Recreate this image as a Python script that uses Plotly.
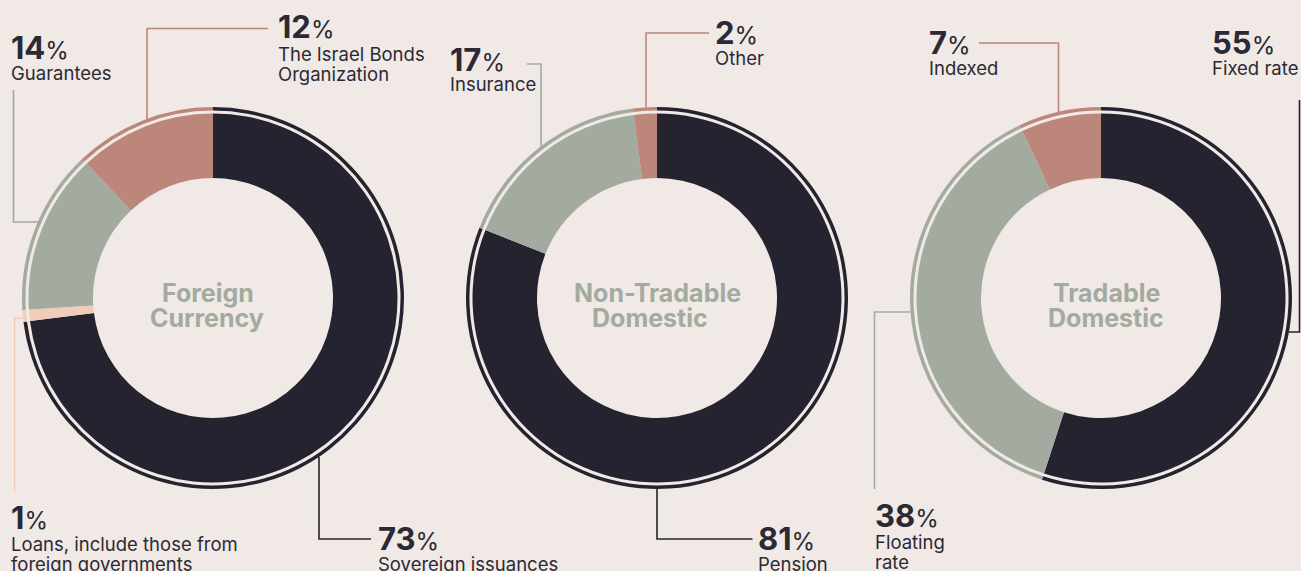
import plotly.graph_objects as go

W, H = 1301, 571

# Debt composition, percent of each segment
fc_labels = ["Sovereign issuances", "Loans, include those from foreign governments",
             "Guarantees", "The Israel Bonds Organization"]
fc_values = [73, 1, 14, 12]

ntd_labels = ["Pension", "Insurance", "Other"]
ntd_values = [81, 17, 2]

td_labels = ["Fixed rate", "Floating rate", "Indexed"]
td_values = [55, 38, 7]

DARK = "#25232f"
SAGE = "#a3aa9f"
ROSE = "#bc877a"
PEACH = "#f2ccb9"
BG = "#f0e9e6"
INK = "#2b2933"
FONT = "Inter"

CY = 298          # ring centre (px from top)
R_OUT = 191       # thin outer band
R_BAND_IN = 187.5
R_MAIN = 184.5    # main ring
R_HOLE = 120

# callout layout per slice: number position, words on first text line,
# first text line position, leader polyline (px)
charts = [
    dict(cx=213, title=["Foreign", "Currency"], title_x=[208, 207],
         labels=fc_labels, values=fc_values, colors=[DARK, PEACH, SAGE, ROSE],
         callouts=[
             dict(nx=378, ny=538, split=None, ty=564,
                  path=[(371, 539), (319, 539), (319, 457)]),
             dict(nx=11, ny=517, split=4, ty=544,
                  path=[(14.5, 491), (14.5, 318), (23, 318)]),
             dict(nx=11, ny=47.5, split=None, ty=72.5,
                  path=[(13.5, 90), (13.5, 222), (38, 222)]),
             dict(nx=278, ny=26.5, split=3, ty=53.7,
                  path=[(268, 28.5), (147, 28.5), (147, 119)]),
         ]),
    dict(cx=657, title=["Non-Tradable", "Domestic"], title_x=[657, 650],
         labels=ntd_labels, values=ntd_values, colors=[DARK, SAGE, ROSE],
         callouts=[
             dict(nx=758, ny=538, split=None, ty=564,
                  path=[(752.5, 539), (657, 539), (657, 489)]),
             dict(nx=450, ny=59, split=None, ty=84,
                  path=[(527, 64), (541, 64), (541, 146)]),
             dict(nx=715, ny=33, split=None, ty=58.3,
                  path=[(709, 33), (646, 33), (646, 107.5)]),
         ]),
    dict(cx=1101, title=["Tradable", "Domestic"], title_x=[1106, 1106],
         labels=td_labels, values=td_values, colors=[DARK, SAGE, ROSE],
         callouts=[
             dict(nx=1212, ny=43, split=None, ty=68,
                  path=[(1299.5, 100), (1299.5, 332), (1289, 332)]),
             dict(nx=875, ny=515.3, split=1, ty=541.5,
                  path=[(874.5, 489), (874.5, 312), (910.5, 312)]),
             dict(nx=929, ny=43, split=None, ty=68,
                  path=[(979, 43), (1058.5, 43), (1058.5, 112)]),
         ]),
]


def fx(x):
    return x / W


def fy(y):
    return 1 - y / H


def ring_domain(cx, r):
    return dict(x=[fx(cx - r), fx(cx + r)], y=[fy(CY + r), fy(CY - r)])


fig = go.Figure()
annotations = []
shapes = []

for ch in charts:
    common = dict(labels=ch["labels"], values=ch["values"], sort=False,
                  direction="clockwise", rotation=0, textinfo="none",
                  showlegend=False, hoverinfo="label+percent")
    # thin outer band
    fig.add_trace(go.Pie(domain=ring_domain(ch["cx"], R_OUT), hole=R_BAND_IN / R_OUT,
                         marker=dict(colors=ch["colors"], line=dict(width=0)), **common))
    # main ring
    fig.add_trace(go.Pie(domain=ring_domain(ch["cx"], R_MAIN), hole=R_HOLE / R_MAIN,
                         marker=dict(colors=ch["colors"], line=dict(width=0)), **common))

    # centre title
    for i, (line, tx) in enumerate(zip(ch["title"], ch["title_x"])):
        annotations.append(dict(text=f"<b>{line}</b>", x=fx(tx), y=fy(293 + i * 25),
                                xref="paper", yref="paper", xanchor="center",
                                yanchor="middle", showarrow=False,
                                font=dict(family=FONT, size=25, color=SAGE)))

    for label, value, color, co in zip(ch["labels"], ch["values"], ch["colors"], ch["callouts"]):
        annotations.append(dict(text=f"<b>{value}</b><span style='font-size:24px'>%</span>",
                                x=fx(co["nx"] - 2), y=fy(co["ny"]),
                                xref="paper", yref="paper", xanchor="left",
                                yanchor="middle", showarrow=False,
                                font=dict(family=FONT, size=31, color=INK)))
        words = label.split(" ")
        lines = [label] if co["split"] is None else [" ".join(words[:co["split"]]),
                                                      " ".join(words[co["split"]:])]
        for j, line in enumerate(lines):
            annotations.append(dict(text=line, x=fx(co["nx"] - 2), y=fy(co["ty"] + j * 20),
                                    xref="paper", yref="paper", xanchor="left",
                                    yanchor="middle", showarrow=False,
                                    font=dict(family=FONT, size=18.5, color=INK)))
        pts = co["path"]
        d = "M " + " L ".join(f"{fx(x):.5f},{fy(y):.5f}" for x, y in pts)
        shapes.append(dict(type="path", path=d, xref="paper", yref="paper",
                           line=dict(color=color, width=1.6), layer="below"))

fig.update_layout(
    width=W, height=H,
    margin=dict(l=0, r=0, t=0, b=0),
    paper_bgcolor=BG, plot_bgcolor=BG,
    xaxis=dict(visible=False), yaxis=dict(visible=False),
    annotations=annotations, shapes=shapes,
)

fig.write_html("out.html")
